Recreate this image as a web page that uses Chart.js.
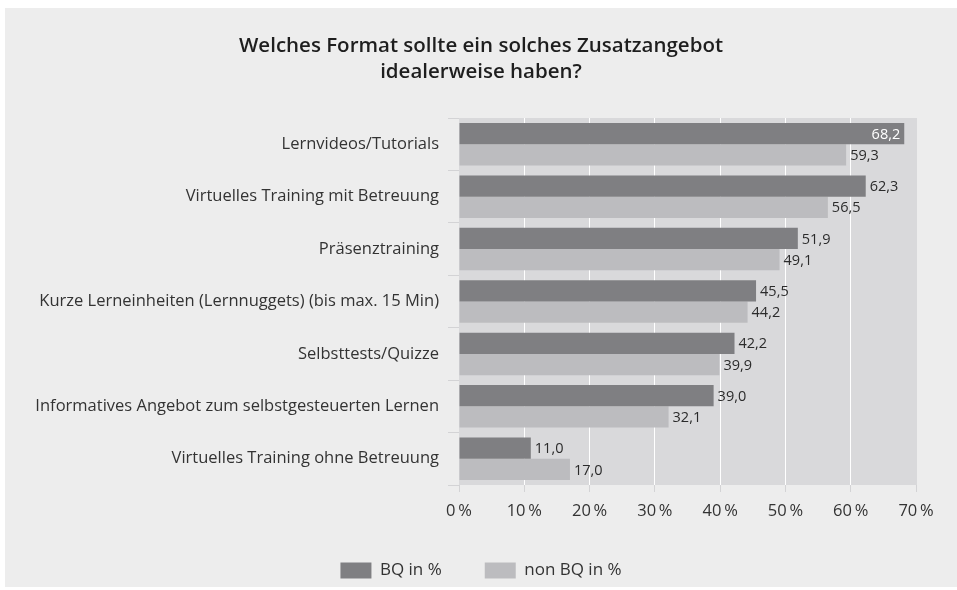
<!DOCTYPE html>
<html><head><meta charset="utf-8">
<script src="https://cdn.jsdelivr.net/npm/chart.js@4.4.1/dist/chart.umd.min.js"></script>
<style>
html,body{margin:0;padding:0;background:#fff;}
#wrap{position:absolute;left:5px;top:8px;width:952px;height:579px;background:#ededed;}
</style></head><body>
<div id="wrap"><canvas id="c"></canvas></div>
<script>
const titleLines = ['Welches Format sollte ein solches Zusatzangebot', 'idealerweise haben?'];
const categories = [
  'Lernvideos/Tutorials',
  'Virtuelles Training mit Betreuung',
  'Präsenztraining',
  'Kurze Lerneinheiten (Lernnuggets) (bis max. 15 Min)',
  'Selbsttests/Quizze',
  'Informatives Angebot zum selbstgesteuerten Lernen',
  'Virtuelles Training ohne Betreuung'
];
const seriesNames = ['BQ in %', 'non BQ in %'];
const bqValues = [68.2, 62.3, 51.9, 45.5, 42.2, 39.0, 11.0];
const nonBqValues = [59.3, 56.5, 49.1, 44.2, 39.9, 32.1, 17.0];
const xTickValues = [0, 10, 20, 30, 40, 50, 60, 70];

const FONT = '"Open Sans", "DejaVu Sans", sans-serif';
Chart.defaults.font.family = FONT;
Chart.defaults.color = '#333';

const fmt = v => v.toFixed(1).replace('.', ',');

const plotBg = {
  id: 'plotBg',
  beforeDraw(chart) {
    const {ctx, chartArea: a} = chart;
    ctx.save();
    ctx.fillStyle = '#d9d9db';
    ctx.fillRect(a.left, a.top, a.right - a.left + 1, a.bottom - a.top);
    ctx.restore();
  }
};

const legendFix = {
  id: 'legendFix',
  afterInit(chart) {
    const lg = chart.legend;
    if (!lg) return;
    const orig = lg.fit.bind(lg);
    lg.fit = function () { orig(); this.height = 68; };
  }
};

const valueLabels = {
  id: 'valueLabels',
  afterDatasetsDraw(chart) {
    const {ctx, chartArea: a} = chart;
    ctx.save();
    ctx.font = '14.5px ' + FONT;
    ctx.textBaseline = 'middle';
    chart.data.datasets.forEach((ds, di) => {
      const meta = chart.getDatasetMeta(di);
      meta.data.forEach((bar, i) => {
        const txt = fmt(ds.data[i]);
        const w = ctx.measureText(txt).width;
        if (bar.x + 4 + w > a.right - 2) {
          ctx.fillStyle = '#ffffff';
          ctx.textAlign = 'right';
          ctx.fillText(txt, bar.x - 4, bar.y + 1);
        } else {
          ctx.fillStyle = '#2b2b2b';
          ctx.textAlign = 'left';
          ctx.fillText(txt, bar.x + 4, bar.y + 1);
        }
      });
    });
    ctx.restore();
  }
};

new Chart(document.getElementById('c'), {
  type: 'bar',
  data: {
    labels: categories,
    datasets: [
      {label: seriesNames[0], data: bqValues, backgroundColor: '#7f7f82', barPercentage: 1, categoryPercentage: 0.81},
      {label: seriesNames[1], data: nonBqValues, backgroundColor: '#bcbcbf', barPercentage: 1, categoryPercentage: 0.81}
    ]
  },
  options: {
    indexAxis: 'y',
    responsive: true,
    maintainAspectRatio: false,
    animation: false,
    layout: {padding: 0},
    scales: {
      x: {
        min: 0, max: 70,
        afterBuildTicks: s => { s.ticks = xTickValues.map(v => ({value: v})); },
        afterFit: s => { s.height = 34; s.paddingRight = 41; },
        border: {display: false},
        grid: {
          color: c => (c.tick && (c.tick.value === 0 || c.tick.value === 70)) ? 'rgba(0,0,0,0)' : '#ffffff',
          tickColor: '#d3d3d5',
          lineWidth: 1,
          tickLength: 7
        },
        ticks: {
          callback: v => v + '\u2009%',
          font: {size: 16.5},
          color: '#333',
          padding: 9,
          maxRotation: 0
        }
      },
      y: {
        afterFit: s => { s.width = 454; s.paddingTop = 0; s.paddingBottom = 0; },
        border: {display: false},
        grid: {drawOnChartArea: false, color: '#d3d3d5', tickLength: 11, offset: true},
        ticks: {font: {size: 16.5}, color: '#333', padding: 9}
      }
    },
    plugins: {
      title: {
        display: true,
        text: titleLines,
        color: '#1e1e1e',
        font: {size: 20.5, weight: '600', lineHeight: 26 / 20.5},
        padding: {top: 25, bottom: 33}
      },
      legend: {
        position: 'bottom',
        labels: {boxWidth: 31, boxHeight: 16, padding: 43, font: {size: 17}, color: '#333'}
      },
      tooltip: {enabled: false}
    }
  },
  plugins: [plotBg, legendFix, valueLabels]
});
</script>
</body></html>
